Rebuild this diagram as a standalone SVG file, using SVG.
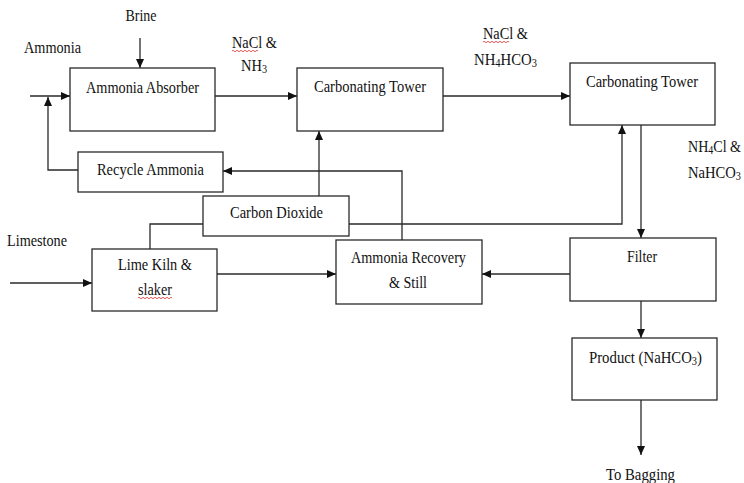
<svg xmlns="http://www.w3.org/2000/svg" width="744" height="483" viewBox="0 0 744 483">
<style>
.box{fill:#fff;stroke:#2a2a2a;stroke-width:1.3}
.c{fill:none;stroke:#2a2a2a;stroke-width:1.3}
text{font-family:"Liberation Serif","Times New Roman",serif;font-size:17px;fill:#111}
.m{text-anchor:middle}
.sub{font-size:12px}
.sq{fill:none;stroke:#e03030;stroke-width:0.8}
</style>
<defs>
<marker id="ah" markerWidth="9" markerHeight="8" refX="9" refY="4" orient="auto" markerUnits="userSpaceOnUse">
<path d="M0,0 L9,4 L0,8 Z" fill="#111"/>
</marker>
</defs>
<rect width="744" height="483" fill="#fff"/>

<g id="connectors">
<path class="c" d="M140,38 V68" marker-end="url(#ah)"/>
<path class="c" d="M30,96 H70" marker-end="url(#ah)"/>
<path class="c" d="M215,96 H297" marker-end="url(#ah)"/>
<path class="c" d="M443,96 H570" marker-end="url(#ah)"/>
<path class="c" d="M78,170 H48 V97" marker-end="url(#ah)"/>
<path class="c" d="M402,240 V171 H223" marker-end="url(#ah)"/>
<path class="c" d="M319,196 V131" marker-end="url(#ah)"/>
<path class="c" d="M150,249 V224 H203"/>
<path class="c" d="M349,224 H622 V125" marker-end="url(#ah)"/>
<path class="c" d="M10,283 H92" marker-end="url(#ah)"/>
<path class="c" d="M217,274 H336" marker-end="url(#ah)"/>
<path class="c" d="M570,274 H482" marker-end="url(#ah)"/>
<path class="c" d="M641,125 V238" marker-end="url(#ah)"/>
<path class="c" d="M641,301 V338" marker-end="url(#ah)"/>
<path class="c" d="M641,400 V455" marker-end="url(#ah)"/>
</g>

<g id="labels">
<text x="141" y="21" class="m" textLength="31" lengthAdjust="spacingAndGlyphs">Brine</text>
<text x="24" y="53" textLength="57" lengthAdjust="spacingAndGlyphs">Ammonia</text>
<text x="232" y="48" textLength="45" lengthAdjust="spacingAndGlyphs">NaCl &amp;</text>
<path class="sq" d="M232,51 q1,-1.5 2,0 t2,0 t2,0 t2,0 t2,0 t2,0 t2,0 t2,0 t2,0 t2,0 t2,0 t2,0 t2,0"/>
<text x="241" y="71" textLength="26" lengthAdjust="spacingAndGlyphs">NH<tspan class="sub" dy="2">3</tspan></text>
<text x="483" y="39" textLength="45" lengthAdjust="spacingAndGlyphs">NaCl &amp;</text>
<path class="sq" d="M483,42 q1,-1.5 2,0 t2,0 t2,0 t2,0 t2,0 t2,0 t2,0 t2,0 t2,0 t2,0 t2,0 t2,0 t2,0"/>
<text x="474" y="65" textLength="63" lengthAdjust="spacingAndGlyphs">NH<tspan class="sub" dy="2">4</tspan><tspan dy="-2">HCO</tspan><tspan class="sub" dy="2">3</tspan></text>
<text x="688" y="152" textLength="53" lengthAdjust="spacingAndGlyphs">NH<tspan class="sub" dy="2">4</tspan><tspan dy="-2">Cl &amp;</tspan></text>
<text x="688" y="178" textLength="53" lengthAdjust="spacingAndGlyphs">NaHCO<tspan class="sub" dy="2">3</tspan></text>
<text x="7" y="246" textLength="60" lengthAdjust="spacingAndGlyphs">Limestone</text>
<text x="606" y="480" textLength="69" lengthAdjust="spacingAndGlyphs">To Bagging</text>
</g>

<g id="ammonia-absorber">
<rect class="box" x="70" y="68" width="145" height="63"/>
<text x="86" y="93" textLength="113" lengthAdjust="spacingAndGlyphs">Ammonia Absorber</text>
</g>
<g id="carbonating-tower-1">
<rect class="box" x="297" y="68" width="146" height="63"/>
<text x="314" y="92" textLength="112" lengthAdjust="spacingAndGlyphs">Carbonating Tower</text>
</g>
<g id="carbonating-tower-2">
<rect class="box" x="570" y="63" width="145" height="62"/>
<text x="586" y="87" textLength="112" lengthAdjust="spacingAndGlyphs">Carbonating Tower</text>
</g>
<g id="recycle-ammonia">
<rect class="box" x="78" y="152" width="145" height="40"/>
<text x="97" y="175" textLength="107" lengthAdjust="spacingAndGlyphs">Recycle Ammonia</text>
</g>
<g id="carbon-dioxide">
<rect class="box" x="203" y="196" width="146" height="40"/>
<text x="230" y="218" textLength="93" lengthAdjust="spacingAndGlyphs">Carbon Dioxide</text>
</g>
<g id="lime-kiln">
<rect class="box" x="92" y="249" width="125" height="62"/>
<text x="118" y="270" textLength="74" lengthAdjust="spacingAndGlyphs">Lime Kiln &amp;</text>
<text x="138" y="295" textLength="34" lengthAdjust="spacingAndGlyphs">slaker</text>
<path class="sq" d="M138,298 q1,-1.5 2,0 t2,0 t2,0 t2,0 t2,0 t2,0 t2,0 t2,0 t2,0 t2,0 t2,0 t2,0 t2,0 t2,0 t2,0 t2,0 t2,0"/>
</g>
<g id="ammonia-recovery">
<rect class="box" x="336" y="240" width="146" height="64"/>
<text x="351" y="263" textLength="115" lengthAdjust="spacingAndGlyphs">Ammonia Recovery</text>
<text x="389" y="288" textLength="38" lengthAdjust="spacingAndGlyphs">&amp; Still</text>
</g>
<g id="filter">
<rect class="box" x="570" y="238" width="146" height="63"/>
<text x="627" y="262" textLength="30" lengthAdjust="spacingAndGlyphs">Filter</text>
</g>
<g id="product">
<rect class="box" x="572" y="338" width="145" height="62"/>
<text x="589" y="363" textLength="113" lengthAdjust="spacingAndGlyphs">Product (NaHCO<tspan class="sub" dy="2">3</tspan><tspan dy="-2">)</tspan></text>
</g>
</svg>
